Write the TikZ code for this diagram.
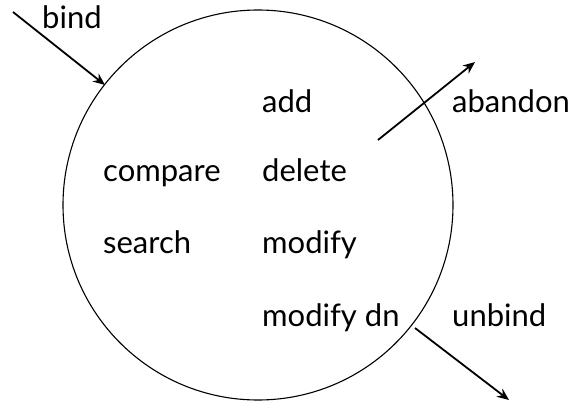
\documentclass[tikz,border=0pt]{standalone}
\usepackage{fontspec}
\setmainfont{Lato}
\usetikzlibrary{arrows.meta}
\begin{document}
\begin{tikzpicture}[x=1pt,y=-1pt,
  lbl/.style={anchor=base west,inner sep=0pt,font=\fontsize{31}{34}\selectfont},
  arr/.style={line width=1.8pt,-{Stealth[length=12pt,width=10pt]}}]
\useasboundingbox (0,0) rectangle (571,404);
\node[draw,line width=1.1pt,circle,minimum size=390pt,inner sep=0pt] (c) at (258,205) {};
\coordinate (b0) at (13,12);
\coordinate (b1) at (105,85);
\coordinate (a0) at (378,140);
\coordinate (a1) at (475,62);
\coordinate (u0) at (415,328);
\coordinate (u1) at (509,400);
\draw[arr] (b0) -- (b1);
\draw[arr] (a0) -- (a1);
\draw[arr] (u0) -- (u1);
\node[lbl] (bind) at (42,29) {bind};
\node[lbl] (add) at (262,113) {add};
\node[lbl] (abandon) at (452,113) {abandon};
\node[lbl] (compare) at (103,182) {compare};
\node[lbl] (delete) at (262,182) {delete};
\node[lbl] (search) at (103,253) {search};
\node[lbl] (modify) at (262,253) {modify};
\node[lbl] (modifydn) at (262,326) {modify dn};
\node[lbl] (unbind) at (452,326) {unbind};
\end{tikzpicture}
\end{document}
